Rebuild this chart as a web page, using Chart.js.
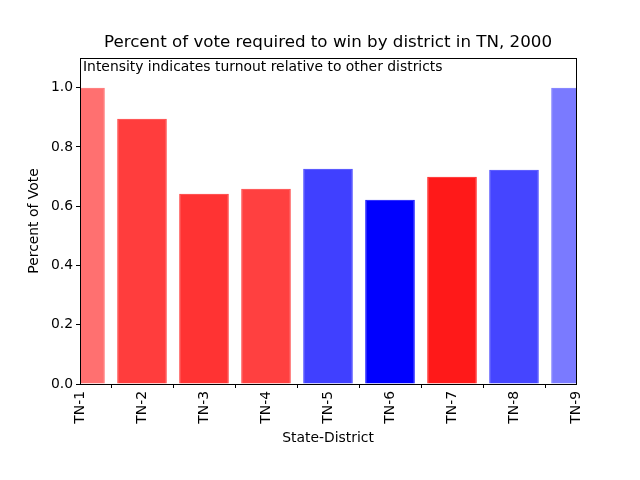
<!DOCTYPE html>
<html lang="en">
<head>
    <meta charset="UTF-8">
    <title>Percent of vote required to win by district in TN, 2000</title>
    <script src="https://cdn.jsdelivr.net/npm/chart.js"></script>
    <style>
        html, body { margin: 0; padding: 0; background: #fff; }
        #wrap { width: 640px; height: 480px; }
    </style>
</head>
<body>
    <div id="wrap"><canvas id="voteChart" width="640" height="480"></canvas></div>

    <script>
        // chart data
        const districts = ["TN-1", "TN-2", "TN-3", "TN-4", "TN-5", "TN-6", "TN-7", "TN-8", "TN-9"];
        const percentToWin = [1.0, 0.895, 0.642, 0.659, 0.726, 0.622, 0.699, 0.723, 1.0];
        const party = ["R", "R", "R", "R", "D", "D", "R", "D", "D"];
        const turnoutIntensity = [0.56, 0.76, 0.80, 0.75, 0.75, 1.0, 0.90, 0.73, 0.52];
        const yTicks = [0, 0.2, 0.4, 0.6, 0.8, 1.0];

        const chartTitle = 'Percent of vote required to win by district in TN, 2000';
        const note = 'Intensity indicates turnout relative to other districts';

        const barColors = party.map((p, i) => {
            const a = turnoutIntensity[i];
            return p === "R" ? `rgba(255,0,0,${a})` : `rgba(0,0,255,${a})`;
        });

        const FONT = "'DejaVu Sans', sans-serif";
        const LABEL_SIZE = 13.9;

        // frame on all four sides, title centred over the axes, note in the top-left corner
        const framePlugin = {
            id: 'frame',
            afterDraw(chart) {
                const { ctx, chartArea } = chart;
                ctx.save();
                ctx.strokeStyle = '#000';
                ctx.lineWidth = 1;
                ctx.strokeRect(Math.round(chartArea.left) + 0.5, Math.round(chartArea.top) + 0.5,
                    Math.round(chartArea.right - chartArea.left), Math.round(chartArea.bottom - chartArea.top));
                ctx.fillStyle = '#000';
                ctx.font = LABEL_SIZE + 'px ' + FONT;
                ctx.textBaseline = 'top';
                ctx.textAlign = 'left';
                ctx.fillText(note, chartArea.left + 3, chartArea.top + 2);
                ctx.font = '16.7px ' + FONT;
                ctx.textAlign = 'center';
                ctx.textBaseline = 'middle';
                ctx.fillText(chartTitle, (chartArea.left + chartArea.right) / 2, chartArea.top - 15);
                ctx.restore();
            }
        };

        new Chart(document.getElementById('voteChart'), {
            type: 'bar',
            data: {
                labels: districts,
                datasets: [{
                    data: percentToWin,
                    backgroundColor: barColors,
                    borderColor: barColors,
                    borderWidth: 1,
                    barPercentage: 0.8,
                    categoryPercentage: 1.0
                }]
            },
            options: {
                responsive: false,
                animation: false,
                layout: { padding: { top: 58, right: 64, bottom: 0, left: 0 } },
                plugins: {
                    legend: { display: false },
                    tooltip: { enabled: false },
                    title: { display: false }
                },
                scales: {
                    x: {
                        type: 'category',
                        offset: false,
                        grid: { display: true, drawOnChartArea: false, drawTicks: true, tickLength: 4, color: '#000' },
                        border: { display: true, color: '#000' },
                        ticks: {
                            color: '#000',
                            font: { family: FONT, size: LABEL_SIZE },
                            maxRotation: 90,
                            minRotation: 90,
                            padding: 3,
                            autoSkip: false
                        },
                        title: {
                            display: true,
                            text: 'State-District',
                            color: '#000',
                            font: { family: FONT, size: LABEL_SIZE },
                            padding: { top: 0, bottom: 33 }
                        },
                        afterFit(scale) { scale.height = 96; }
                    },
                    y: {
                        min: 0,
                        max: 1.1,
                        afterBuildTicks(scale) { scale.ticks = yTicks.map(v => ({ value: v })); },
                        grid: { display: true, drawOnChartArea: false, drawTicks: true, tickLength: 4, color: '#000' },
                        border: { display: true, color: '#000' },
                        ticks: {
                            color: '#000',
                            font: { family: FONT, size: LABEL_SIZE },
                            padding: 3,
                            callback: v => v.toFixed(1)
                        },
                        title: {
                            display: true,
                            text: 'Percent of Vote',
                            color: '#000',
                            font: { family: FONT, size: LABEL_SIZE },
                            padding: { top: 26, bottom: 0 }
                        },
                        afterFit(scale) { scale.width = 80; }
                    }
                }
            },
            plugins: [framePlugin]
        });
    </script>
</body>
</html>
